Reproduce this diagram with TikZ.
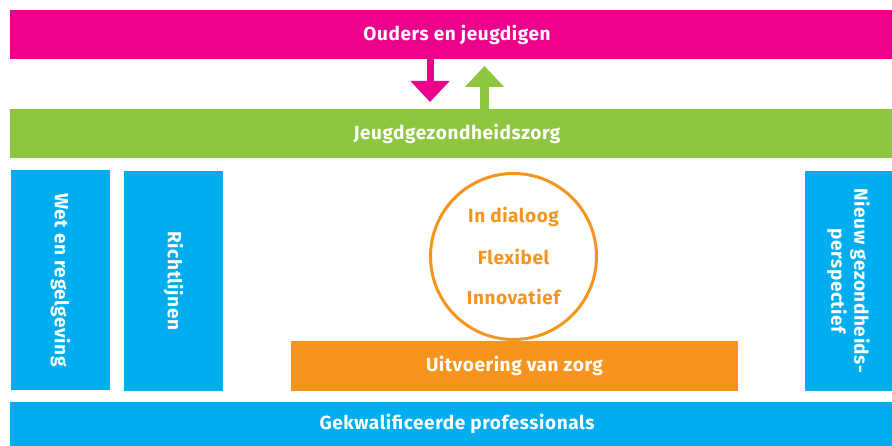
\documentclass[tikz,border=0pt]{standalone}
\usepackage{fontspec}
\setmainfont[LetterSpace=3]{Fira Sans}
\usetikzlibrary{arrows.meta}
\definecolor{cmag}{HTML}{EC008C}
\definecolor{cgreen}{HTML}{8DC63F}
\definecolor{cblue}{HTML}{00AEEF}
\definecolor{corange}{HTML}{F7941D}
\tikzset{
  blk/.style={rectangle, inner sep=0pt, outer sep=0pt, text=white,
    font=\fontsize{19}{23}\selectfont\bfseries},
  htxt/.style={text=white, inner sep=0pt, font=\fontsize{19}{23}\selectfont\bfseries},
  vtxt/.style={rotate=-90, align=center, text=white,
    font=\fontsize{19}{23}\selectfont\bfseries},
  ctxt/.style={text=corange, font=\fontsize{19}{23}\selectfont\bfseries},
  arr/.style={-{Triangle[width=38pt,length=21pt]}}
}
\begin{document}
\begin{tikzpicture}[x=1pt,y=-1pt]
\useasboundingbox (0,0) rectangle (892,446);
\node[blk, fill=cmag, minimum width=882pt, minimum height=49pt] (ouders) at (451,34.5) {};
\node[htxt] (ouderst) at ([xshift=6pt]ouders.center) {Ouders en jeugdigen};
\node[blk, fill=cgreen, minimum width=882pt, minimum height=49pt] (jgz) at (451,133.5) {};
\node[htxt] (jgzt) at ([xshift=6pt]jgz.center) {Jeugdgezondheidszorg};
\node[blk, fill=cblue, minimum width=99pt, minimum height=220pt] (wet) at (60.5,280) {};
\node[vtxt] (wett) at (wet.center) {Wet en regelgeving};
\node[blk, fill=cblue, minimum width=99pt, minimum height=220pt] (richt) at (173.5,281) {};
\node[vtxt] (richtt) at (richt.center) {Richtlijnen};
\node[blk, fill=cblue, minimum width=87pt, minimum height=220pt] (nieuw) at (848.5,281) {};
\node[vtxt] (nieuwt) at (nieuw.center) {Nieuw gezondheids-\\perspectief};
\node[blk, fill=corange, minimum width=447pt, minimum height=50pt] (uitv) at (514.5,366) {Uitvoering van zorg};
\node[blk, fill=cblue, minimum width=882pt, minimum height=44pt] (gekw) at (451,424) {};
\node[htxt] (gekwt) at ([xshift=6pt]gekw.center) {Gekwalificeerde professionals};
\node[circle, draw=corange, line width=3pt, minimum size=166pt, inner sep=0pt] (circ) at (513.5,256.5) {};
\node[ctxt] (c1) at (513.5,217) {In dialoog};
\node[ctxt] (c2) at (513.5,257) {Flexibel};
\node[ctxt] (c3) at (513.5,297) {Innovatief};
\coordinate (a1s) at ([xshift=-21pt]ouders.south);
\coordinate (a1e) at ([xshift=-21pt]jgz.north);
\coordinate (a2s) at ([xshift=33.5pt]jgz.north);
\coordinate (a2e) at ([xshift=33.5pt]ouders.south);
\draw[arr, draw=cmag, fill=cmag, line width=7pt, shorten >=7pt] (a1s) -- (a1e);
\draw[arr, draw=cgreen, fill=cgreen, line width=9pt, shorten >=7pt] (a2s) -- (a2e);
\end{tikzpicture}
\end{document}
